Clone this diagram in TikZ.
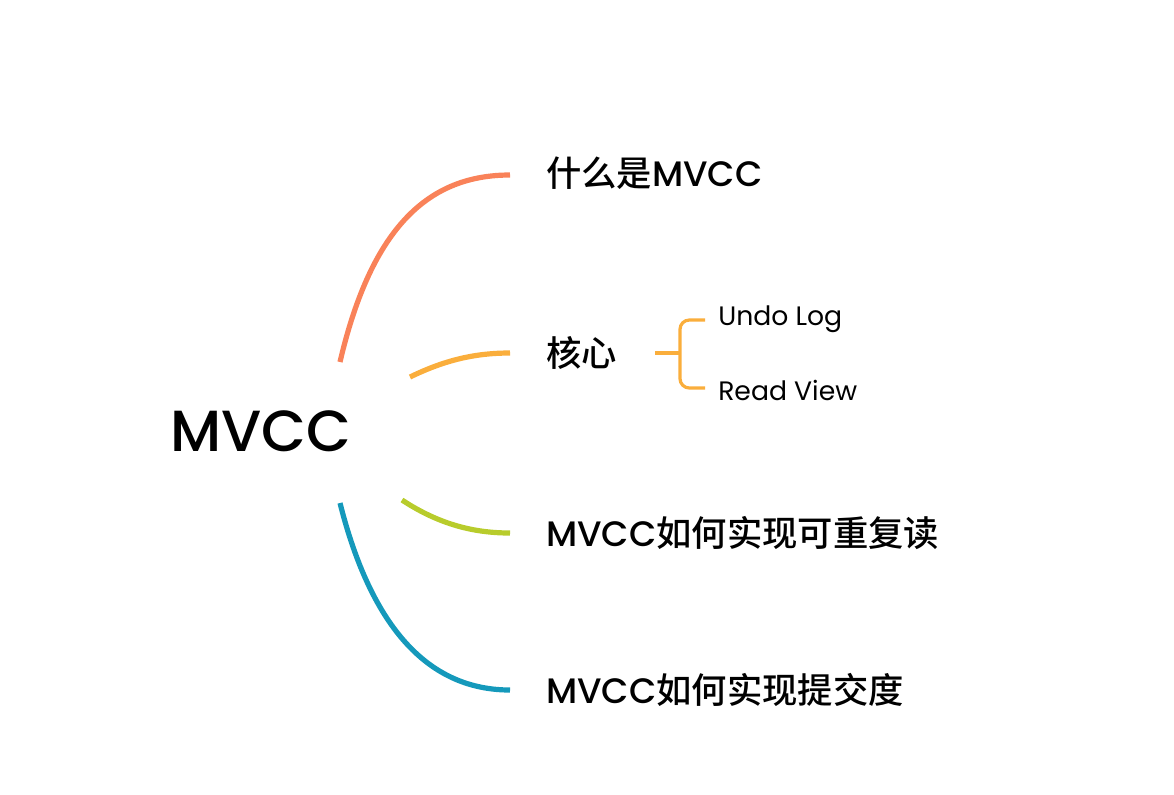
\documentclass[tikz,border=0pt]{standalone}
\usepackage{fontspec}
\setmainfont{Poppins}
\newfontfamily\popmed{Poppins}[UprightFont={* Medium}]
\newfontfamily\cjk{Noto Sans CJK SC}[UprightFont={* Medium}]
\begin{document}
\begin{tikzpicture}[x=0.75pt,y=-0.75pt,
  branch/.style={line width=3.9pt,line cap=butt},
  big/.style={font=\fontsize{26.5pt}{32pt}\selectfont\popmed,anchor=west,inner sep=0pt},
  small/.style={font=\fontsize{20pt}{24pt}\selectfont,anchor=west,inner sep=0pt},
  bracket/.style={line width=2.4pt,color=cB,rounded corners=7pt}]
\definecolor{cA}{HTML}{F98259}
\definecolor{cB}{HTML}{FAAE3C}
\definecolor{cC}{HTML}{B8CC2C}
\definecolor{cD}{HTML}{1599BB}
\useasboundingbox (0,0) rectangle (1174,794);
\node[font=\fontsize{43.5pt}{50pt}\selectfont\popmed,inner sep=0pt] (root) at (261,431) {MVCC};
\coordinate (sA) at (340,362);
\coordinate (sB) at (410,377);
\coordinate (sC) at (402,500);
\coordinate (sD) at (340,503);
\node[big] (nA) at (546,173) {{\cjk 什么是}MVCC};
\node[big] (nB) at (546,353) {\cjk 核心};
\node[big] (nC) at (546,533) {MVCC{\cjk 如何实现可重复读}};
\node[big] (nD) at (546,690) {MVCC{\cjk 如何实现提交度}};
\coordinate (eA) at (510,175);
\coordinate (eB) at (510,353);
\coordinate (eC) at (510,533);
\coordinate (eD) at (510,690);
\draw[branch,cA] (sA) .. controls (372,225) and (430,175) .. (eA);
\draw[branch,cB] (sB) .. controls (445,360) and (475,353) .. (eB);
\draw[branch,cC] (sC) .. controls (440,525) and (475,533) .. (eC);
\draw[branch,cD] (sD) .. controls (372,630) and (430,690) .. (eD);
\node[small] (u) at (718,319) {Undo Log};
\node[small] (r) at (718,390) {Read View};
\coordinate (b0) at (655,353);
\coordinate (bm) at (680,353);
\draw[bracket] (b0) -- (bm);
\draw[bracket] (705,320) -- (680,320) -- (680,388) -- (705,388);
\end{tikzpicture}
\end{document}
